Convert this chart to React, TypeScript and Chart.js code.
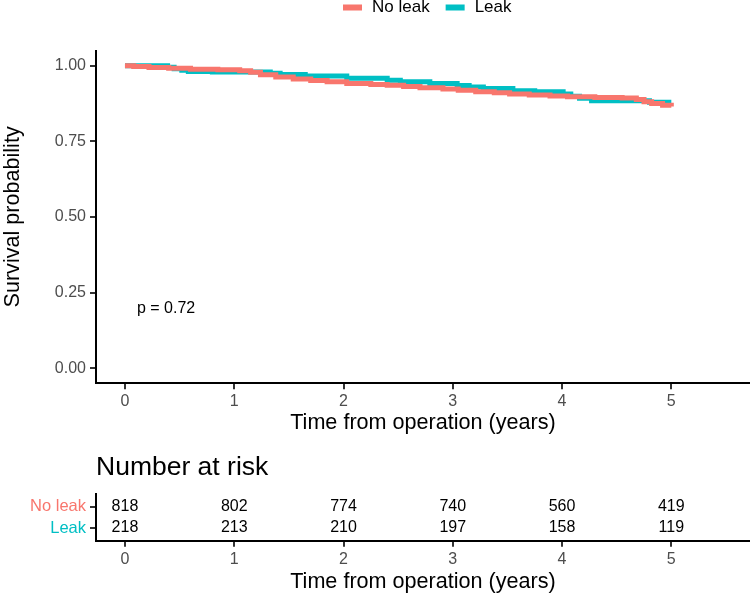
import { useEffect, useRef } from "react";
import { Chart, registerables } from "chart.js";

Chart.register(...registerables);

// ---------- data ----------
const groupNames = ["No leak", "Leak"];
const groupColors = ["#F8766D", "#00BFC4"];

const timeNoLeak = [0, 0.08, 0.22, 0.4, 0.6, 0.85, 1.05, 1.15, 1.24, 1.38, 1.54, 1.7, 1.85, 2.03, 2.25, 2.4, 2.55, 2.7, 2.91, 3.05, 3.21, 3.38, 3.52, 3.7, 3.89, 4.05, 4.3, 4.55, 4.68, 4.75, 4.82, 4.92, 5.0];
const survNoLeak = [1.0, 0.997, 0.994, 0.991, 0.988, 0.986, 0.983, 0.978, 0.97, 0.962, 0.956, 0.951, 0.947, 0.941, 0.938, 0.935, 0.931, 0.927, 0.923, 0.919, 0.914, 0.91, 0.906, 0.903, 0.9, 0.897, 0.895, 0.893, 0.888, 0.881, 0.875, 0.869, 0.865];

const timeLeak = [0, 0.39, 0.45, 0.52, 0.58, 0.8, 1.33, 1.42, 1.65, 2.03, 2.4, 2.52, 2.79, 3.04, 3.15, 3.28, 3.55, 3.75, 4.01, 4.08, 4.16, 4.27, 4.8, 5.0];
const survLeak = [1.0, 0.995, 0.99, 0.985, 0.981, 0.979, 0.975, 0.971, 0.966, 0.958, 0.952, 0.947, 0.941, 0.934, 0.929, 0.924, 0.917, 0.914, 0.906, 0.899, 0.892, 0.884, 0.879, 0.879];

const xTicks = [0, 1, 2, 3, 4, 5];
const yTicks = [0, 0.25, 0.5, 0.75, 1.0];
const xRange = [-0.265, 5.72];
const yRange = [-0.05, 1.05];

const riskTimes = [0, 1, 2, 3, 4, 5];
const riskNoLeak = [818, 802, 774, 740, 560, 419];
const riskLeak = [218, 213, 210, 197, 158, 119];
const riskRows = [2, 1];

const pValueLabel = "p = 0.72";
const pValueAt = [0.11, 0.196];

const xTitle = "Time from operation (years)";
const yTitle = "Survival probability";
const riskTitle = "Number at risk";

// ---------- styling ----------
const FONT = "'Liberation Sans', Arial, Helvetica, sans-serif";
const TICK_TEXT = "#4D4D4D";

function xAxis(height: number, titlePadBottom: number) {
  return {
    type: "linear" as const,
    min: xRange[0],
    max: xRange[1],
    afterBuildTicks: (s: any) => {
      s.ticks = xTicks.map((v) => ({ value: v }));
    },
    afterFit: (s: any) => {
      s.height = height;
    },
    grid: {
      display: true,
      drawOnChartArea: false,
      drawTicks: true,
      tickLength: 6,
      color: "#333333",
      lineWidth: 2,
    },
    border: { display: true, color: "#000000", width: 2 },
    ticks: {
      color: TICK_TEXT,
      font: { family: FONT, size: 16 },
      padding: 3,
      maxRotation: 0,
      callback: (v: any) => String(v),
    },
    title: {
      display: true,
      text: xTitle,
      color: "#000000",
      font: { family: FONT, size: 21.6, lineHeight: 1 },
      padding: { top: 0, bottom: titlePadBottom },
    },
  };
}

function SurvivalChart() {
  const ref = useRef<HTMLCanvasElement | null>(null);
  useEffect(() => {
    if (!ref.current) return;
    const legendPlugin = {
      id: "kmLegend",
      afterDraw(chart: any) {
        const ctx = chart.ctx;
        ctx.save();
        ctx.font = `17px ${FONT}`;
        ctx.textBaseline = "middle";
        ctx.textAlign = "left";
        let x = 343;
        const cy = 7.5;
        groupNames.forEach((name, i) => {
          ctx.fillStyle = groupColors[i];
          ctx.fillRect(x, cy - 3, 19, 6);
          x += 19 + 10;
          ctx.fillStyle = "#000000";
          ctx.fillText(name, x, cy);
          x += ctx.measureText(name).width + 16;
        });
        ctx.restore();
      },
    };
    const pPlugin = {
      id: "pValue",
      afterDatasetsDraw(chart: any) {
        const ctx = chart.ctx;
        const xs = chart.scales.x;
        const ys = chart.scales.y;
        ctx.save();
        ctx.font = `16px ${FONT}`;
        ctx.fillStyle = "#000000";
        ctx.textAlign = "left";
        ctx.textBaseline = "middle";
        ctx.fillText(pValueLabel, xs.getPixelForValue(pValueAt[0]), ys.getPixelForValue(pValueAt[1]));
        ctx.restore();
      },
    };
    const chart = new Chart(ref.current, {
      type: "line",
      data: {
        datasets: [
          {
            label: groupNames[0],
            data: timeNoLeak.map((t, i) => ({ x: t, y: survNoLeak[i] })),
            borderColor: groupColors[0],
            backgroundColor: groupColors[0],
            borderWidth: 5,
            pointRadius: 0,
            stepped: "before",
            fill: false,
          },
          {
            label: groupNames[1],
            data: timeLeak.map((t, i) => ({ x: t, y: survLeak[i] })),
            borderColor: groupColors[1],
            backgroundColor: groupColors[1],
            borderWidth: 5,
            pointRadius: 0,
            stepped: "before",
            fill: false,
          },
        ],
      },
      options: {
        responsive: false,
        animation: false,
        layout: { padding: { top: 50.5, left: 0, right: 0, bottom: 0 } },
        plugins: {
          legend: { display: false },
          tooltip: { enabled: false },
          title: { display: false },
        },
        scales: {
          x: xAxis(56.7, 6.2),
          y: {
            type: "linear",
            min: yRange[0],
            max: yRange[1],
            afterBuildTicks: (s: any) => {
              s.ticks = yTicks.map((v) => ({ value: v }));
            },
            afterFit: (s: any) => {
              s.width = 96;
            },
            grid: {
              display: true,
              drawOnChartArea: false,
              drawTicks: true,
              tickLength: 6,
              color: "#333333",
              lineWidth: 2,
            },
            border: { display: true, color: "#000000", width: 2 },
            ticks: {
              color: TICK_TEXT,
              font: { family: FONT, size: 16 },
              padding: 4,
              callback: (v: any) => Number(v).toFixed(2),
            },
            title: {
              display: true,
              text: yTitle,
              color: "#000000",
              font: { family: FONT, size: 21.6, lineHeight: 1 },
              padding: { top: 2, bottom: 0 },
            },
          },
        },
      } as any,
      plugins: [legendPlugin, pPlugin],
    });
    return () => chart.destroy();
  }, []);
  return <canvas ref={ref} width={750} height={440} style={{ display: "block", width: 750, height: 440 }} />;
}

function RiskTable() {
  const ref = useRef<HTMLCanvasElement | null>(null);
  useEffect(() => {
    if (!ref.current) return;
    const counts = [riskNoLeak, riskLeak];
    const textPlugin = {
      id: "riskText",
      afterDatasetsDraw(chart: any) {
        const ctx = chart.ctx;
        ctx.save();
        ctx.font = `16px ${FONT}`;
        ctx.fillStyle = "#000000";
        ctx.textAlign = "center";
        ctx.textBaseline = "middle";
        counts.forEach((row, i) => {
          const meta = chart.getDatasetMeta(i);
          meta.data.forEach((pt: any, j: number) => {
            ctx.fillText(String(row[j]), pt.x, pt.y);
          });
        });
        ctx.restore();
      },
    };
    const chart = new Chart(ref.current, {
      type: "scatter",
      data: {
        datasets: counts.map((row, i) => ({
          label: groupNames[i],
          data: riskTimes.map((t) => ({ x: t, y: riskRows[i] })),
          pointRadius: 0,
          showLine: false,
        })),
      },
      options: {
        responsive: false,
        animation: false,
        layout: { padding: { top: 0, left: 0, right: 0, bottom: 0 } },
        plugins: {
          legend: { display: false },
          tooltip: { enabled: false },
          title: {
            display: true,
            text: riskTitle,
            align: "start",
            fullSize: false,
            color: "#000000",
            font: { family: FONT, size: 26.5, weight: "normal", lineHeight: 1.2 },
            padding: { top: 12, bottom: 10.2 },
          },
        },
        scales: {
          x: xAxis(52.3, 0),
          y: {
            type: "linear",
            min: 0.4,
            max: 2.6,
            afterBuildTicks: (s: any) => {
              s.ticks = riskRows.map((v) => ({ value: v }));
            },
            afterFit: (s: any) => {
              s.width = 96;
            },
            grid: {
              display: true,
              drawOnChartArea: false,
              drawTicks: true,
              tickLength: 6,
              color: "#333333",
              lineWidth: 2,
            },
            border: { display: true, color: "#000000", width: 2 },
            ticks: {
              font: { family: FONT, size: 16.5 },
              padding: 4,
              color: (c: any) => groupColors[riskRows.indexOf(c.tick ? c.tick.value : 0)] || TICK_TEXT,
              callback: (v: any) => groupNames[riskRows.indexOf(Number(v))],
            },
          },
        },
      } as any,
      plugins: [textPlugin],
    });
    return () => chart.destroy();
  }, []);
  return <canvas ref={ref} width={750} height={153} style={{ display: "block", width: 750, height: 153 }} />;
}

export default function App() {
  return (
    <div style={{ position: "absolute", left: 0, top: 0, width: 750, height: 593, background: "#ffffff" }}>
      <SurvivalChart />
      <RiskTable />
    </div>
  );
}
